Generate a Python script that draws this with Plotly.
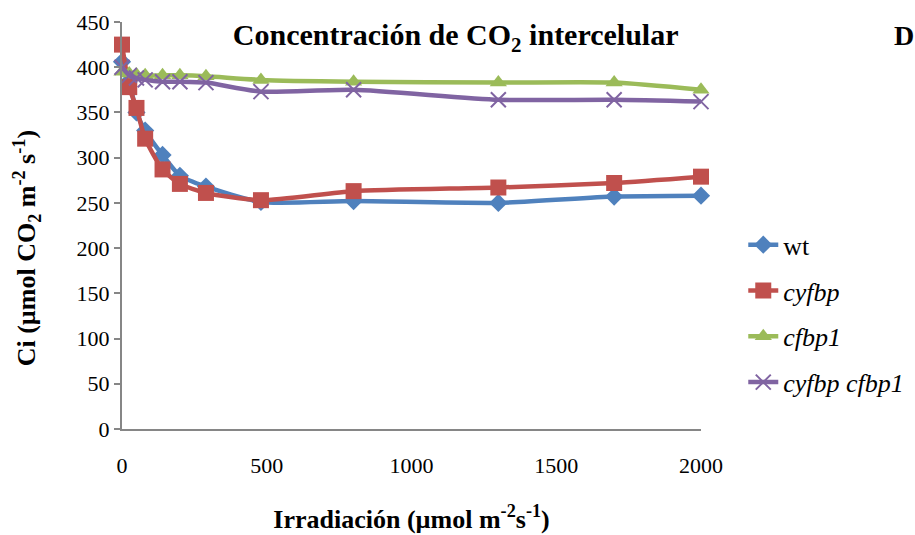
import plotly.graph_objects as go

# irradiance (umol m-2 s-1)
irradiance = [0, 25, 50, 80, 140, 200, 290, 480, 800, 1300, 1700, 2000]

# intercellular CO2 (umol CO2 m-2 s-1)
ci_wt = [406, 385, 350, 330, 303, 280, 268, 251, 252, 250, 257, 258]
ci_cyfbp = [425, 378, 355, 321, 287, 271, 261, 253, 263, 267, 272, 279]
ci_cfbp1 = [395, 393, 392, 391, 391, 391, 390, 386, 384, 383, 383, 375]
ci_double = [400, 391, 388, 386, 384, 384, 383, 373, 375, 364, 364, 362]

y_ticks = list(range(0, 451, 50))
x_ticks = [0, 500, 1000, 1500, 2000]

FONT = "Liberation Serif, Times New Roman, serif"

series = [
    ("wt", ci_wt, "#4F81BD", dict(symbol="diamond", size=14)),
    ("<i>cyfbp</i>", ci_cyfbp, "#C0504D", dict(symbol="square", size=16)),
    ("<i>cfbp1</i>", ci_cfbp1, "#9BBB59", dict(symbol="triangle-up", size=15)),
    ("<i>cyfbp cfbp1</i>", ci_double, "#8064A2",
     dict(symbol="x-thin", size=15, line=dict(width=2, color="#8064A2"))),
]

fig = go.Figure()
for i, (name, vals, color, marker) in enumerate(series):
    fig.add_trace(go.Scatter(
        x=irradiance, y=vals, name=name, mode="lines+markers",
        line=dict(color=color, width=4.5, shape="spline", smoothing=0.6),
        marker=dict(color=color, **marker),
        legendgroup=f"g{i}", cliponaxis=False,
    ))

fig.update_layout(
    width=915, height=535,
    margin=dict(l=122, r=214, t=22, b=106, autoexpand=False),
    plot_bgcolor="white", paper_bgcolor="white",
    font=dict(family=FONT, size=22, color="black"),
    legend=dict(x=1.073, y=0.283, yanchor="middle", font=dict(size=26),
                tracegroupgap=9, bgcolor="rgba(0,0,0,0)"),
    title=dict(text="<b>Concentración de CO<sub>2</sub> intercelular</b>",
               x=0.498, xanchor="center", y=0.935, yanchor="middle",
               font=dict(size=30)),
)
fig.add_annotation(text="<b>D</b>", xref="paper", yref="paper", x=1.35, y=0.968,
                   xanchor="center", yanchor="middle", showarrow=False,
                   font=dict(size=28))
# y title placed by hand, it sits a bit below the plot middle
fig.add_annotation(text="<b>Ci (µmol CO<sub>2</sub> m<sup>-2</sup> s<sup>-1</sup>)</b>",
                   xref="paper", yref="paper", x=-0.165, y=0.445, textangle=-90,
                   xanchor="center", yanchor="middle", showarrow=False,
                   font=dict(size=26))

fig.update_xaxes(
    range=[0, 2000], tickvals=x_ticks, showgrid=False, zeroline=False,
    showline=True, linecolor="#868686", linewidth=2, ticks="", ticklabelstandoff=16,
    automargin=False,
    title=dict(text="<b>Irradiación (µmol m<sup>-2</sup>s<sup>-1</sup>)</b>",
               font=dict(size=26), standoff=32),
)
fig.update_yaxes(
    range=[0, 450], tickvals=y_ticks, showgrid=False, zeroline=False,
    showline=True, linecolor="#868686", linewidth=2, ticks="outside",
    tickcolor="#868686", ticklen=6, tickwidth=2, automargin=False,
)

fig.write_html("out.html", config={"displayModeBar": False},
               post_script="document.body.style.margin='0';")
